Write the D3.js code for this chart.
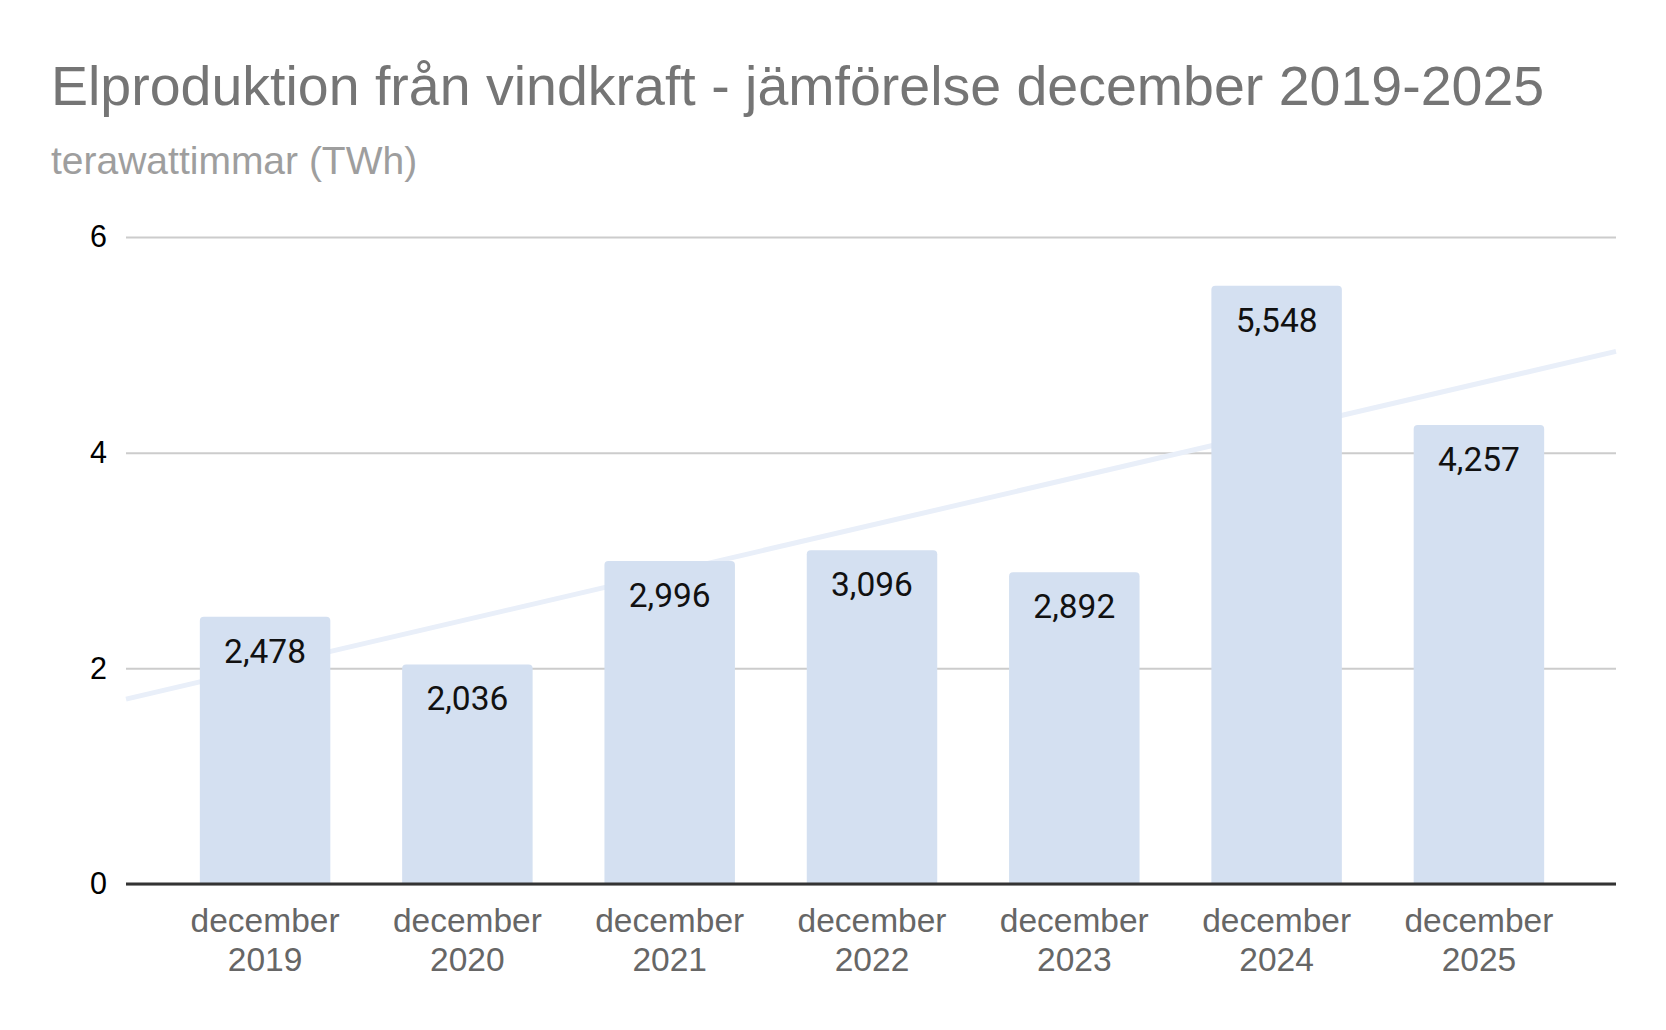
<!DOCTYPE html>
<html lang="sv">
<head>
<meta charset="utf-8">
<title>Elproduktion från vindkraft</title>
<script src="https://cdn.jsdelivr.net/npm/d3@7"></script>
<style>
  body { margin: 0; background: #fff; }
  svg { display: block; }
</style>
</head>
<body>
<script>
  var w = 1666;
  var h = 1030;

  // data
  var months = ["december", "december", "december", "december", "december", "december", "december"];
  var years = ["2019", "2020", "2021", "2022", "2023", "2024", "2025"];
  var values = [2.478, 2.036, 2.996, 3.096, 2.892, 5.548, 4.257];
  var yTicks = [0, 2, 4, 6];

  var plotLeft = 126, plotRight = 1616, plotTop = 237, plotBottom = 884;

  var xScale = d3.scaleBand()
    .domain(d3.range(values.length))
    .range([plotLeft + 1, plotRight + 1])
    .paddingInner(0.355)
    .paddingOuter(0.36);

  var yScale = d3.scaleLinear()
    .domain([0, 6])
    .range([plotBottom, plotTop]);

  var svg = d3.select("body").append("svg")
    .attr("width", w)
    .attr("height", h);

  // title
  svg.append("text")
    .attr("x", 51).attr("y", 105)
    .attr("font-family", "Liberation Sans, Arial, sans-serif")
    .attr("font-size", "55.5px")
    .attr("fill", "#757575")
    .text("Elproduktion från vindkraft - jämförelse december 2019-2025");

  svg.append("text")
    .attr("x", 51).attr("y", 174)
    .attr("font-family", "Liberation Sans, Arial, sans-serif")
    .attr("font-size", "39px")
    .attr("fill", "#9e9e9e")
    .text("terawattimmar (TWh)");

  // gridlines + y labels
  var yAxis = d3.axisLeft(yScale)
    .tickValues(yTicks)
    .tickSize(-(plotRight - plotLeft))
    .tickPadding(19)
    .tickFormat(d3.format("d"));

  var gy = svg.append("g")
    .attr("transform", "translate(" + plotLeft + ",0)")
    .call(yAxis);
  gy.select(".domain").remove();
  gy.selectAll(".tick line")
    .attr("stroke", "#cccccc")
    .attr("stroke-width", 2);
  gy.selectAll(".tick text")
    .attr("font-family", "Liberation Sans, Arial, sans-serif")
    .attr("font-size", "30.5px")
    .attr("fill", "#000");

  // trend line (linear regression of the values)
  var n = values.length;
  var mx = d3.mean(d3.range(n));
  var my = d3.mean(values);
  var slope = d3.sum(values, function(d, i) { return (i - mx) * (d - my); }) /
              d3.sum(d3.range(n), function(i) { return (i - mx) * (i - mx); });
  var step = xScale.step();
  var c0 = xScale(0) + xScale.bandwidth() / 2;
  function idxAt(px) { return (px - c0) / step; }
  function trendY(px) { return yScale(my + slope * (idxAt(px) - mx)); }

  svg.append("line")
    .attr("x1", plotLeft).attr("y1", trendY(plotLeft))
    .attr("x2", plotRight).attr("y2", trendY(plotRight))
    .attr("stroke", "#e9eff9")
    .attr("stroke-width", 5);

  // bars with rounded tops
  var r = 4;
  svg.selectAll("path.bar")
    .data(values)
    .enter()
    .append("path")
    .attr("class", "bar")
    .attr("fill", "#d4e0f1")
    .attr("d", function(d, i) {
      var x0 = xScale(i), x1 = x0 + xScale.bandwidth();
      var y0 = yScale(d), y1 = yScale(0);
      return "M" + x0 + "," + y1 +
             "V" + (y0 + r) +
             "Q" + x0 + "," + y0 + " " + (x0 + r) + "," + y0 +
             "H" + (x1 - r) +
             "Q" + x1 + "," + y0 + " " + x1 + "," + (y0 + r) +
             "V" + y1 + "Z";
    });

  // value labels
  var fmt = d3.format(".3f");
  svg.selectAll("text.val")
    .data(values)
    .enter()
    .append("text")
    .attr("class", "val")
    .attr("x", function(d, i) { return xScale(i) + xScale.bandwidth() / 2; })
    .attr("y", function(d) { return yScale(d) + 46; })
    .attr("text-anchor", "middle")
    .attr("font-family", "Roboto, sans-serif")
    .attr("font-size", "33.5px")
    .attr("fill", "#111")
    .text(function(d) { return fmt(d).replace(".", ","); });

  // x axis
  var xAxis = d3.axisBottom(xScale).tickSize(0).tickFormat("");
  var gx = svg.append("g")
    .attr("transform", "translate(0," + plotBottom + ")")
    .call(xAxis);
  gx.select(".domain")
    .attr("stroke", "#333")
    .attr("stroke-width", 3)
    .attr("d", "M" + plotLeft + ",0H" + plotRight);

  var xl = svg.selectAll("text.xl")
    .data(years)
    .enter()
    .append("text")
    .attr("class", "xl")
    .attr("text-anchor", "middle")
    .attr("font-family", "Liberation Sans, Arial, sans-serif")
    .attr("font-size", "33.5px")
    .attr("fill", "#666");
  xl.append("tspan")
    .attr("x", function(d, i) { return xScale(i) + xScale.bandwidth() / 2; })
    .attr("y", 932)
    .text(function(d, i) { return months[i]; });
  xl.append("tspan")
    .attr("x", function(d, i) { return xScale(i) + xScale.bandwidth() / 2; })
    .attr("y", 971)
    .text(function(d) { return d; });
</script>
</body>
</html>
